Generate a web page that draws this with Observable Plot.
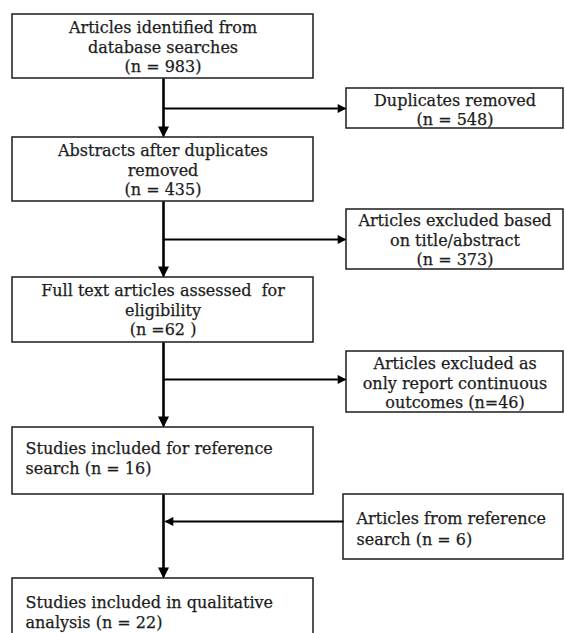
<!DOCTYPE html>
<html>
<head>
<meta charset="utf-8">
<script src="https://cdn.jsdelivr.net/npm/d3@7"></script>
<script src="https://cdn.jsdelivr.net/npm/@observablehq/plot@0.6"></script>
<style>
  html, body { margin: 0; padding: 0; background: #fff; overflow: hidden; }
  #chart svg { display: block; }
</style>
</head>
<body>
<div id="chart"></div>
<script>
// ---- Data: flow stages and counts ----
const mainStages = [
  "Articles identified from\ndatabase searches\n(n = {n})",
  "Abstracts after duplicates\nremoved\n(n = {n})",
  "Full text articles assessed  for\neligibility\n(n ={n} )",
  "Studies included for reference\nsearch (n = {n})",
  "Studies included in qualitative\nanalysis (n = {n})"
];
const mainCounts = [983, 435, 62, 16, 22];

const sideStages = [
  "Duplicates removed\n(n = {n})",
  "Articles excluded based\non title/abstract\n(n = {n})",
  "Articles excluded as\nonly report continuous\noutcomes (n={n})",
  "Articles from reference\nsearch (n = {n})"
];
const sideCounts = [548, 373, 46, 6];

// ---- Layout (diagram geometry, pixel space) ----
const mainLayout = [
  {x1: 12, x2: 313, y1: 14,  y2: 78,  align: "center", ty: 46},
  {x1: 12, x2: 313, y1: 137, y2: 201, align: "center", ty: 169},
  {x1: 12, x2: 313, y1: 277, y2: 342, align: "center", ty: 309},
  {x1: 12, x2: 313, y1: 427, y2: 494, align: "start",  ty: 457},
  {x1: 12, x2: 313, y1: 578, y2: 660, align: "start",  ty: 611}
];
const sideLayout = [
  {x1: 346, x2: 563, y1: 88,  y2: 128, align: "center", ty: 108.5},
  {x1: 346, x2: 563, y1: 209, y2: 269, align: "center", ty: 239},
  {x1: 346, x2: 563, y1: 351, y2: 412, align: "center", ty: 382},
  {x1: 343, x2: 563, y1: 494, y2: 559, align: "start",  ty: 527.5}
];
const spineX = 163;
const branchY = [108, 239, 379, 521];

const fill = (t, n) => t.replace("{n}", n);
const boxes = [
  ...mainStages.map((t, i) => ({...mainLayout[i], label: fill(t, mainCounts[i])})),
  ...sideStages.map((t, i) => ({...sideLayout[i], label: fill(t, sideCounts[i])}))
];
boxes.forEach(b => {
  b.tx = b.align === "center" ? (b.x1 + b.x2) / 2 : b.x1 + 13;
});

// connectors: vertical spine segments and horizontal branches
const vLinks = mainLayout.slice(0, -1).map((b, i) => ({
  x1: spineX, y1: b.y2, x2: spineX, y2: mainLayout[i + 1].y1 - 2, rot: 0, tx: spineX, ty: mainLayout[i + 1].y1
}));
const hLinks = branchY.map((y, i) => i < 3
  ? {x1: spineX, y1: y, x2: sideLayout[i].x1 - 2, y2: y, rot: -90, tx: sideLayout[i].x1, ty: y}
  : {x1: sideLayout[i].x1, y1: y, x2: spineX + 2, y2: y, rot: 90, tx: spineX + 1, ty: y});

// filled arrowhead symbol with its tip at the origin, pointing down
const headSymbol = {
  draw(context, size) {
    const r = Math.sqrt(size / Math.PI);
    context.moveTo(0, 0);
    context.lineTo(-r * 0.55, -r * 1.1);
    context.lineTo(r * 0.55, -r * 1.1);
    context.closePath();
  }
};

const W = 565, H = 633;
const font = "DejaVu Serif";
const ink = "#1c1c1c";

const chart = Plot.plot({
  width: W, height: H,
  margin: 0,
  x: {domain: [0, W], range: [0, W], axis: null},
  y: {domain: [0, H], range: [0, H], axis: null},
  style: {fontFamily: font, background: "#fff"},
  marks: [
    Plot.rect(boxes, {x1: "x1", x2: "x2", y1: "y1", y2: "y2",
      fill: "#fff", stroke: "#2a2a2a", strokeWidth: 1.6}),
    Plot.link(vLinks, {x1: "x1", y1: "y1", x2: "x2", y2: "y2",
      stroke: "#000", strokeWidth: 2.6}),
    Plot.link(hLinks, {x1: "x1", y1: "y1", x2: "x2", y2: "y2",
      stroke: "#000", strokeWidth: 1.9}),
    Plot.dot(vLinks, {x: "tx", y: "ty", symbol: headSymbol, r: 10, rotate: "rot",
      fill: "#000", stroke: "none"}),
    Plot.dot(hLinks, {x: "tx", y: "ty", symbol: headSymbol, r: 8, rotate: "rot",
      fill: "#000", stroke: "none"}),
    Plot.text(boxes.filter(b => b.align === "center"), {
      x: "tx", y: "ty", text: "label", textAnchor: "middle",
      lineAnchor: "middle", lineHeight: 1.2, fontSize: 16, fill: ink,
      stroke: ink, strokeWidth: 0.25
    }),
    Plot.text(boxes.filter(b => b.align === "start"), {
      x: "tx", y: "ty", text: "label", textAnchor: "start",
      lineAnchor: "middle", lineHeight: 1.28, fontSize: 16, fill: ink,
      stroke: ink, strokeWidth: 0.25
    })
  ]
});
document.getElementById("chart").appendChild(chart);
</script>
</body>
</html>
